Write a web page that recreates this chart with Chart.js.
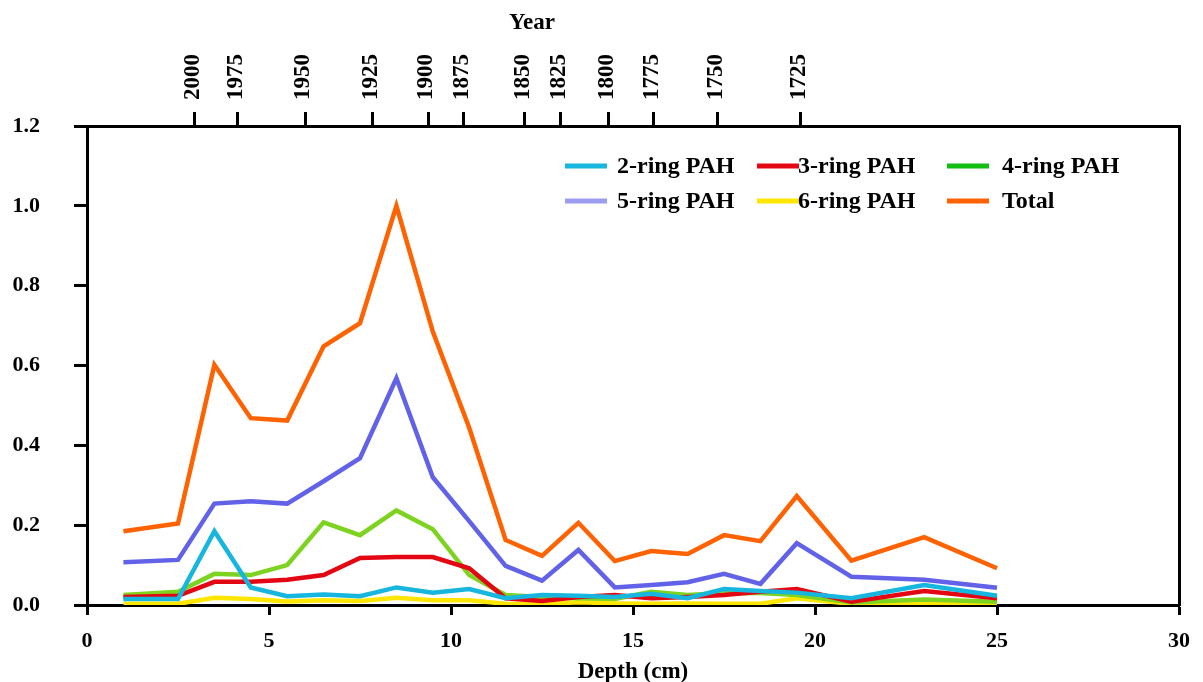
<!DOCTYPE html>
<html>
<head>
<meta charset="utf-8">
<script src="https://cdn.jsdelivr.net/npm/chart.js@4.4.0/dist/chart.umd.min.js"></script>
<style>
	html, body { margin: 0; padding: 0; background: #fff; }
</style>
</head>
<body>
<canvas id="myChart" width="1203" height="682"></canvas>
<script>
// depth of each sample (cm)
const depths = [1, 2.5, 3.5, 4.5, 5.5, 6.5, 7.5, 8.5, 9.5, 10.5, 11.5, 12.5, 13.5, 14.5, 15.5, 16.5, 17.5, 18.5, 19.5, 21, 23, 25];

const ring2 = [0.015, 0.015, 0.185, 0.044, 0.022, 0.026, 0.022, 0.044, 0.031, 0.04, 0.017, 0.025, 0.023, 0.02, 0.028, 0.017, 0.04, 0.035, 0.031, 0.017, 0.05, 0.023];
const ring3 = [0.02, 0.023, 0.058, 0.058, 0.063, 0.075, 0.118, 0.12, 0.12, 0.092, 0.017, 0.01, 0.02, 0.025, 0.017, 0.02, 0.025, 0.033, 0.04, 0.008, 0.035, 0.017];
const ring4 = [0.025, 0.033, 0.078, 0.075, 0.1, 0.207, 0.175, 0.237, 0.19, 0.075, 0.025, 0.02, 0.017, 0.015, 0.033, 0.025, 0.03, 0.03, 0.025, 0.006, 0.014, 0.008];
const ring5 = [0.107, 0.113, 0.254, 0.26, 0.254, 0.31, 0.368, 0.568, 0.32, 0.21, 0.098, 0.061, 0.138, 0.044, 0.05, 0.057, 0.078, 0.053, 0.155, 0.071, 0.063, 0.043];
const ring6 = [0.003, 0.003, 0.018, 0.015, 0.009, 0.012, 0.01, 0.018, 0.012, 0.012, 0.003, 0.002, 0.007, 0.004, 0.003, 0.004, 0.003, 0.003, 0.017, 0.003, 0.005, 0.003];
const total = [0.185, 0.204, 0.602, 0.468, 0.462, 0.648, 0.706, 1.0, 0.685, 0.444, 0.163, 0.123, 0.206, 0.11, 0.135, 0.128, 0.175, 0.16, 0.273, 0.111, 0.17, 0.092];

// top axis: year marks and the depth they sit at
const yearLabels = ['2000', '1975', '1950', '1925', '1900', '1875', '1850', '1825', '1800', '1775', '1750', '1725'];
const yearDepths = [2.96, 4.14, 5.99, 7.85, 9.37, 10.35, 12.03, 13.0, 14.34, 15.57, 17.32, 19.61];

const FONT = '"Liberation Serif", "Times New Roman", serif';

function pts(arr) {
	return arr.map((v, i) => ({ x: depths[i], y: v }));
}

// legend drawn inside the plot, 3 columns x 2 rows
const legendBox = {
	id: 'legendBox',
	afterDraw(chart) {
		const ctx = chart.ctx;
		const swX = [565, 757, 947];
		const txX = [617, 798, 1002];
		const rowY = [166, 201];
		ctx.save();
		ctx.font = 'bold 24px ' + FONT;
		ctx.textBaseline = 'middle';
		chart.data.datasets.forEach((ds, i) => {
			const c = i % 3, r = Math.floor(i / 3);
			ctx.strokeStyle = ds.legendColor;
			ctx.lineWidth = 5;
			ctx.beginPath();
			ctx.moveTo(swX[c], rowY[r]);
			ctx.lineTo(swX[c] + 42, rowY[r]);
			ctx.stroke();
			ctx.fillStyle = '#000';
			ctx.fillText(ds.label, txX[c], rowY[r] + 1);
		});
		// top axis title
		ctx.font = 'bold 23px ' + FONT;
		ctx.textAlign = 'center';
		ctx.fillText('Year', 532, 23);
		ctx.restore();
	},
};

function lineSet(label, data, color, legendColor) {
	return {
		label: label,
		data: pts(data),
		borderColor: color,
		backgroundColor: color,
		legendColor: legendColor || color,
		borderWidth: 4.5,
		pointRadius: 0,
		tension: 0,
		fill: false,
	};
}

const axisFont = { family: FONT, size: 22, weight: 'bold' };

new Chart(document.getElementById('myChart').getContext('2d'), {
	type: 'line',
	data: {
		datasets: [
			lineSet('2-ring PAH', ring2, '#16B6DE'),
			lineSet('3-ring PAH', ring3, '#E30613'),
			lineSet('4-ring PAH', ring4, '#7ED321', '#12BE12'),
			lineSet('5-ring PAH', ring5, '#6262E8', '#9C9CF0'),
			lineSet('6-ring PAH', ring6, '#FFE600'),
			lineSet('Total', total, '#FF6200'),
		],
	},
	plugins: [legendBox],
	options: {
		responsive: false,
		animation: false,
		layout: { padding: 0 },
		plugins: {
			legend: { display: false },
			tooltip: { enabled: false },
		},
		scales: {
			x: {
				type: 'linear',
				position: 'bottom',
				min: 0,
				max: 30,
				ticks: { stepSize: 5, color: '#000', font: axisFont, padding: 13 },
				grid: { drawOnChartArea: false, tickLength: 10, tickWidth: 3, tickColor: '#000' },
				border: { color: '#000', width: 3 },
				title: {
					display: true,
					text: 'Depth (cm)',
					color: '#000',
					font: { family: FONT, size: 23, weight: 'bold', lineHeight: 0.85 },
					padding: 0,
				},
				afterFit: (s) => { s.height = 77; },
			},
			x2: {
				type: 'linear',
				position: 'top',
				min: 0,
				max: 30,
				afterBuildTicks: (s) => {
					s.ticks = yearDepths.map((v) => ({ value: v }));
				},
				ticks: {
					autoSkip: false,
					minRotation: 90,
					maxRotation: 90,
					padding: 12,
					labelOffset: 26,
					color: '#000',
					font: { family: FONT, size: 23, weight: 'bold' },
					callback: (v, i) => yearLabels[i],
				},
				grid: { drawOnChartArea: false, tickLength: 14, tickWidth: 3, tickColor: '#000' },
				border: { color: '#000', width: 3 },
				afterFit: (s) => { s.height = 126; },
			},
			y: {
				min: 0,
				max: 1.2,
				ticks: { stepSize: 0.2, color: '#000', font: axisFont, padding: 34, callback: (v) => v.toFixed(1) },
				grid: { drawOnChartArea: false, tickLength: 13, tickWidth: 3, tickColor: '#000' },
				border: { color: '#000', width: 3 },
				afterFit: (s) => { s.width = 87; },
			},
			y2: {
				position: 'right',
				min: 0,
				max: 1.2,
				ticks: { display: false },
				grid: { display: false },
				border: { color: '#000', width: 3 },
				afterFit: (s) => { s.width = 15; },
			},
		},
	},
});
</script>
</body>
</html>
